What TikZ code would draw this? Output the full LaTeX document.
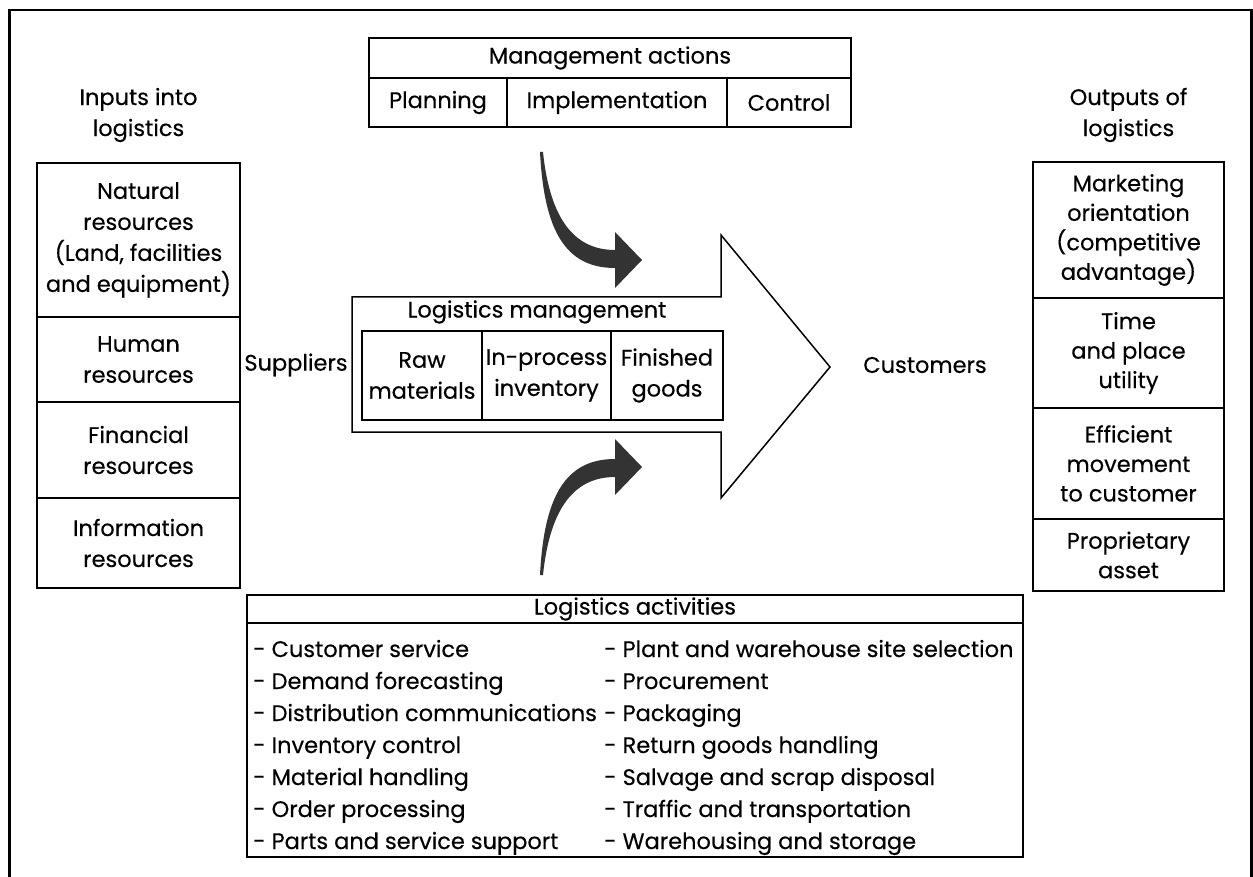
\documentclass[tikz,border=0pt]{standalone}
\usepackage{fontspec}
\setmainfont{Poppins}[FakeBold=0.35]
\begin{document}
\begin{tikzpicture}[x=1pt,y=-1pt,
  txt/.style={font=\fontsize{22.5}{31}\selectfont, align=center, inner sep=0pt},
  cell/.style={draw, line width=1.6pt, inner sep=0pt, align=center, font=\fontsize{22.5}{31}\selectfont},
  rcell/.style={cell, font=\fontsize{22.5}{29.5}\selectfont},
  item/.style={font=\fontsize{22.5}{31}\selectfont, anchor=base west, inner sep=0pt},
  curv/.style={fill=black!80, draw=none}]
\useasboundingbox (0,0) rectangle (1253,877);
% outer frame (open at the bottom)
\draw[line width=2.6pt] (9.5,880) -- (9.5,10) -- (1251.5,10) -- (1251.5,880);

% inputs
\node[txt] (intitle) at (138.5,115) {Inputs into\\logistics};
\node[cell, minimum width=203, minimum height=154] (nat) at (138.5,240) {Natural\\resources\\(Land, facilities\\and equipment)};
\node[cell, minimum width=203, minimum height=85] (hum) at (138.5,359.5) {Human\\resources};
\node[cell, minimum width=203, minimum height=96] (fin) at (138.5,450) {Financial\\resources};
\node[cell, minimum width=203, minimum height=90] (inf) at (138.5,543) {Information\\resources};

% outputs
\node[txt] (outtitle) at (1128.5,115) {Outputs of\\logistics};
\node[rcell, minimum width=191, minimum height=136] (mkt) at (1128.5,230) {Marketing\\orientation\\(competitive\\advantage)};
\node[rcell, minimum width=191, minimum height=110] (tim) at (1128.5,353) {Time\\and place\\utility};
\node[rcell, minimum width=191, minimum height=111] (eff) at (1128.5,463.5) {Efficient\\movement\\to customer};
\node[rcell, minimum width=191, minimum height=72] (pro) at (1128.5,555) {Proprietary\\asset};

% management actions
\node[cell, minimum width=482, minimum height=40] (mgmt) at (610,58) {Management actions};
\node[cell, minimum width=138, minimum height=49] (plan) at (438,102.5) {Planning};
\node[cell, minimum width=220, minimum height=49] (impl) at (617,102.5) {Implementation};
\node[cell, minimum width=124, minimum height=49] (ctrl) at (789,102.5) {Control};

% big arrow
\draw[line width=1.5pt, line join=miter]
  (352,297) coordinate (a1) -- (721,297) -- (721,235) -- (830,367) coordinate (tip)
  -- (721,498) -- (721,432) -- (352,432) -- cycle;
\node[txt] (lm) at (537,312) {Logistics management};
\node[cell, minimum width=120, minimum height=89] (raw) at (422,375.5) {Raw\\materials};
\node[cell, minimum width=129, minimum height=89] (inp) at (546.5,375.5) {In-process\\inventory};
\node[cell, minimum width=112, minimum height=89] (fgd) at (667,375.5) {Finished\\goods};

\node[txt] (sup) at (296,365) {Suppliers};
\node[txt] (cus) at (925,365) {Customers};

% curved arrows
\fill[curv] (543,152) .. controls (550,220) and (575,250) .. (615,250) -- (615,232) -- (642,260)
  -- (615,288) -- (615,268) .. controls (565,268) and (544,230) .. (540,152) -- cycle;
\fill[curv] (543,575) .. controls (550,507) and (575,477) .. (615,477) -- (615,495) -- (642,467)
  -- (615,439) -- (615,459) .. controls (565,459) and (544,497) .. (540,575) -- cycle;

% logistics activities
\node[cell, minimum width=776, minimum height=28] (acthead) at (635,609) {Logistics activities};
\node[draw, line width=1.6pt, minimum width=776, minimum height=234, inner sep=0pt] (actbox) at (635,740) {};
\foreach \t [count=\i from 0] in {Customer service, Demand forecasting, Distribution communications,
  Inventory control, Material handling, Order processing, Parts and service support}
  \node[item] (l\i) at (253,{657+32*\i}) {- \t};
\foreach \t [count=\i from 0] in {Plant and warehouse site selection, Procurement, Packaging,
  Return goods handling, Salvage and scrap disposal, Traffic and transportation, Warehousing and storage}
  \node[item] (r\i) at (604,{657+32*\i}) {- \t};
\end{tikzpicture}
\end{document}
